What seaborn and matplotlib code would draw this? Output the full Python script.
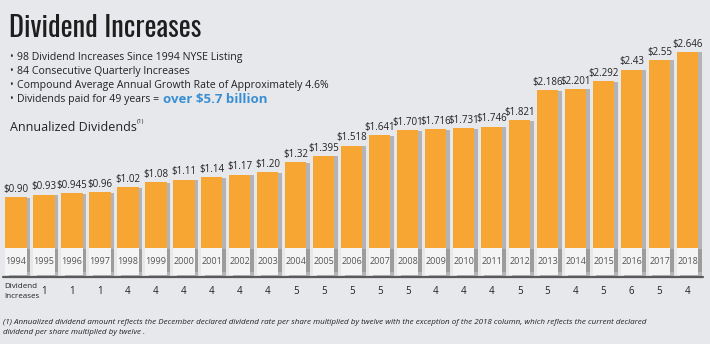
import matplotlib
matplotlib.use("Agg")
import matplotlib.pyplot as plt
import matplotlib.patheffects as pe
from matplotlib.lines import Line2D
import seaborn as sns
import pandas as pd

years = [str(y) for y in range(1994, 2019)]
dividends = [0.90, 0.93, 0.945, 0.96, 1.02, 1.08, 1.11, 1.14, 1.17, 1.20,
             1.32, 1.395, 1.518, 1.641, 1.701, 1.716, 1.731, 1.746, 1.821,
             2.186, 2.201, 2.292, 2.43, 2.55, 2.646]
value_labels = ["$0.90", "$0.93", "$0.945", "$0.96", "$1.02", "$1.08", "$1.11",
                "$1.14", "$1.17", "$1.20", "$1.32", "$1.395", "$1.518", "$1.641",
                "$1.701", "$1.716", "$1.731", "$1.746", "$1.821", "$2.186",
                "$2.201", "$2.292", "$2.43", "$2.55", "$2.646"]
increases = [1, 1, 1, 4, 4, 4, 4, 4, 4, 5, 5, 5, 5, 5, 4, 4, 4, 5, 5, 4, 5, 6, 5, 4]
increase_years = years[1:]
bullets = ["98 Dividend Increases Since 1994 NYSE Listing",
           "84 Consecutive Quarterly Increases",
           "Compound Average Annual Growth Rate of Approximately 4.6%",
           "Dividends paid for 49 years ="]
highlight = "over $5.7 billion"
footnote = ["(1) Annualized dividend amount reflects the December declared dividend rate per share multiplied by twelve with the exception of the 2018 column, which reflects the current declared",
            "dividend per share multiplied by twelve ."]

BG = "#e7e8ec"
ORANGE = "#f8a633"
W, H = 710, 344

sns.set_theme(style="white")
plt.rcParams["font.family"] = ["Open Sans", "DejaVu Sans"]

fig = plt.figure(figsize=(7.1, 3.44), dpi=100)
fig.patch.set_facecolor(BG)

zero_px, top_px = 272, 30
scale = 83.3
ax = fig.add_axes([2 / W, (H - zero_px) / H, 699.5 / W, (zero_px - top_px) / H])
ax.set_facecolor(BG)

BW = 0.76
df = pd.DataFrame({"year": years, "dividend": dividends})
def shadow():
    return [pe.SimplePatchShadow(offset=(2.5, -0.5), shadow_rgbFace="#8a8a8a", alpha=0.55), pe.Normal()]
sns.barplot(data=df, x="year", y="dividend", color=ORANGE, saturation=1,
            width=BW, ax=ax, edgecolor="none")
for p in ax.patches:
    p.set_path_effects(shadow())
ax.bar_label(ax.containers[0], labels=value_labels, padding=1.5, fontsize=7, color="#222222")

band_h = (zero_px - 248) / scale
below = 3 / scale
xs = list(range(len(years)))
bands = ax.bar(xs, [band_h + below] * len(years), bottom=-below, width=BW,
               color="#f4f4f5", edgecolor="none", clip_on=False, zorder=3)
for b in bands:
    b.set_path_effects(shadow())
for x, y in zip(xs, years):
    ax.text(x, (zero_px - 262) / scale, y, ha="center", va="center",
            fontsize=6.5, color="#555555", zorder=4)

ax.set_xlim(-0.5, len(years) - 0.5)
ax.set_ylim(0, (zero_px - top_px) / scale)
ax.set_axis_off()

fig.add_artist(Line2D([3 / W, 703 / W], [(H - 277) / H] * 2, color="#5a5a5a", lw=1.6))

def xpix(i):
    return (2 + (i + 0.5) * 27.98) / W

for yr, n in zip(increase_years, increases):
    i = years.index(yr)
    fig.text(xpix(i), 1 - 292 / H, str(n), ha="center", va="center", fontsize=7, color="#222222")
fig.text(4 / W, 1 - 287 / H, "Dividend", ha="left", va="center", fontsize=5.8, color="#222222")
fig.text(4 / W, 1 - 297 / H, "Increases", ha="left", va="center", fontsize=5.8, color="#222222")

fig.text(9 / W, 1 - 37 / H, "Dividend Increases", ha="left", va="baseline",
         fontsize=20.5, color="#1e1e1e", family=["Oswald", "DejaVu Sans"])
for k, t in enumerate(bullets):
    yc = 1 - (57.5 + 14 * k) / H
    fig.text(9 / W, yc, "\u2022", ha="left", va="center", fontsize=7, color="#333333")
    fig.text(17 / W, yc, t, ha="left", va="center", fontsize=7.6, color="#222222")
fig.text(163 / W, 1 - 99.5 / H, highlight, ha="left", va="center", fontsize=9.5,
         fontweight="bold", color="#3a8fd3")
fig.text(10 / W, 1 - 127.5 / H, "Annualized Dividends", ha="left", va="center",
         fontsize=9, color="#222222")
fig.text(137 / W, 1 - 122 / H, "(1)", ha="left", va="center", fontsize=4.5, color="#222222")

for k, t in enumerate(footnote):
    fig.text(3 / W, 1 - (322.5 + 9.5 * k) / H, t, ha="left", va="center",
             fontsize=5.8, style="italic", color="#222222")

fig.savefig("out.png", dpi=100, facecolor=BG)
